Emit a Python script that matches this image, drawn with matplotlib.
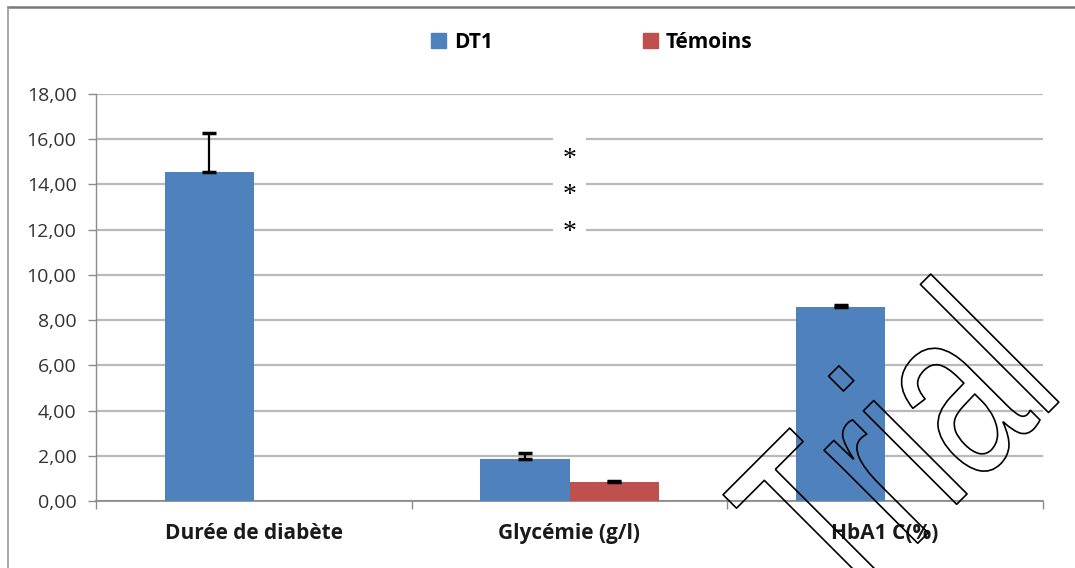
import matplotlib.pyplot as plt
from matplotlib import patheffects
from matplotlib.lines import Line2D
from matplotlib.patches import Patch
from matplotlib.transforms import Affine2D

categories = ["Durée de diabète", "Glycémie (g/l)", "HbA1 C(%)"]
dt1 = [14.57, 1.86, 8.57]
dt1_err = [1.70, 0.25, 0.09]
temoins = [0.0, 0.83, 0.0]
temoins_err = [0.0, 0.07, 0.0]
yticks = [0, 2, 4, 6, 8, 10, 12, 14, 16, 18]
star_y = 13.5

blue = "#4F81BD"
red = "#C0504D"
grid_c = "#B9B9B9"
axis_c = "#8C8C8C"
lab_font = ["Open Sans", "DejaVu Sans"]


class TallStroke(patheffects.Stroke):
    # outline only, glyphs stretched upwards (watermark look)
    def draw_path(self, renderer, gc, tpath, affine, rgbFace):
        super().draw_path(renderer, gc, tpath, Affine2D().scale(1, 1.5) + affine, rgbFace)


fig = plt.figure(figsize=(10.75, 5.68), dpi=100)
ax = fig.add_axes([96 / 1075, 1 - 501 / 568, (1043 - 96) / 1075, (501 - 94) / 568])

x = list(range(len(categories)))
w = 0.282
ax.bar([i - w / 2 for i in x], dt1, w, color=blue, zorder=3)
ax.bar([i + w / 2 for i in x], temoins, w, color=red, zorder=3)
ax.errorbar([i - w / 2 for i in x], dt1, yerr=[[0] * 3, dt1_err], fmt="none",
            ecolor="black", elinewidth=1.6, capsize=5, capthick=2.5, zorder=4)
ax.errorbar([x[1] + w / 2], [temoins[1]], yerr=[[0], [temoins_err[1]]], fmt="none",
            ecolor="black", elinewidth=1.6, capsize=5, capthick=2.5, zorder=4)

ax.set_xlim(-0.5, 2.5)
ax.set_ylim(0, 18)
ax.set_yticks(yticks)
ax.set_yticklabels([f"{v:.2f}".replace(".", ",") for v in yticks],
                   family=lab_font, fontsize=14, color="#333333")
ax.yaxis.grid(True, color=grid_c, linewidth=1.6, zorder=0)
ax.set_axisbelow(True)

ax.set_xticks([-0.5, 0.5, 1.5, 2.5])
ax.set_xticklabels([])
ax.set_xticks(x, minor=True)
ax.set_xticklabels(categories, minor=True, family=lab_font, fontsize=15,
                   fontweight="bold", color="#1a1a1a")
ax.tick_params(axis="x", which="minor", length=0, pad=16)
ax.tick_params(axis="x", which="major", length=6, color=axis_c, width=1)
ax.tick_params(axis="y", length=6, color=axis_c, width=1, pad=8)

for s in ["top", "right"]:
    ax.spines[s].set_visible(False)
ax.spines["left"].set_color(axis_c)
ax.spines["bottom"].set_color(axis_c)
ax.spines["left"].set_linewidth(1)
ax.spines["bottom"].set_linewidth(1.3)

# significance stars
ax.text(1.0, star_y, "*\n*\n*", ha="center", va="center", fontsize=20,
        family=["Liberation Serif", "DejaVu Serif"], linespacing=1.6, zorder=5,
        bbox=dict(boxstyle="square,pad=0.35", fc="white", ec="none"))

handles = [Patch(color=blue, label="DT1"), Patch(color=red, label="Témoins")]
fig.legend(handles=handles, loc="center", bbox_to_anchor=(592 / 1075, 1 - 42 / 568),
           ncol=2, frameon=False, handlelength=0.7, handleheight=0.7,
           handletextpad=0.4, columnspacing=7.2,
           prop={"family": lab_font, "size": 15, "weight": "bold"})

# outer chart frame (top and left edges visible)
fig.add_artist(Line2D([8 / 1075, 1.0], [1 - 7 / 568] * 2, color="#7a7a7a", lw=1.8))
fig.add_artist(Line2D([8 / 1075] * 2, [0.0, 1 - 7 / 568], color="#9a9a9a", lw=1.2))

# outlined "Trial" watermark
fig.text(842 / 1075, 1 - 619 / 568, "Trial", rotation=45, rotation_mode="anchor",
         ha="left", va="baseline", fontsize=120, color=(1, 1, 1, 0),
         family=["Liberation Sans", "DejaVu Sans"],
         path_effects=[TallStroke(linewidth=1.2, foreground="black")], zorder=10)

fig.savefig("out.png", dpi=100)
